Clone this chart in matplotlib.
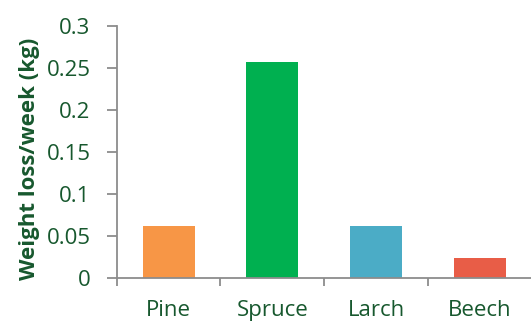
import numpy as np
import matplotlib
matplotlib.use("Agg")
import matplotlib.pyplot as plt
from matplotlib.ticker import FixedLocator

plt.rcParams['font.family'] = ['Open Sans', 'DejaVu Sans']

species = ['Pine', 'Spruce', 'Larch', 'Beech']
loss = [0.062, 0.257, 0.062, 0.023]
colors = ['#F79646', '#00B050', '#4BACC6', '#E85D47']
yticks = [0, 0.05, 0.1, 0.15, 0.2, 0.25, 0.3]
ylabels = ['0', '0.05', '0.1', '0.15', '0.2', '0.25', '0.3']

txt = '#17582E'
axc = '#8C8C8C'

fig = plt.figure(figsize=(5.31, 3.22), dpi=100)
ax = fig.add_axes([0.220, 0.138, 0.781, 0.781])

x = np.arange(len(species))
ax.bar(x, loss, width=0.5, color=colors, zorder=2)

ax.set_xlim(-0.5, len(species) - 0.5)
ax.set_ylim(0, 0.3)
ax.set_yticks(yticks, ylabels)

# category boundaries get the tick marks, names sit under the bar centres
ax.xaxis.set_major_locator(FixedLocator(np.arange(-0.5, len(species), 1.0)))
ax.xaxis.set_major_formatter(plt.NullFormatter())
ax.set_xticks(x, species, minor=True)
ax.tick_params(axis='x', which='minor', length=0, pad=16, labelsize=16, labelcolor=txt)
ax.tick_params(axis='x', which='major', length=6, width=1.3, color=axc, direction='out')
ax.tick_params(axis='y', length=7, width=1.3, color=axc, labelsize=16, labelcolor=txt, pad=12)

for s in ['top', 'right']:
    ax.spines[s].set_visible(False)
for s in ['left', 'bottom']:
    ax.spines[s].set_color(axc)
    ax.spines[s].set_linewidth(1.3)

ax.set_ylabel('Weight loss/week (kg)', fontsize=16, fontweight='bold', color=txt)
ax.yaxis.set_label_coords(-0.185, 0.47)

fig.savefig('out.png', dpi=100)
